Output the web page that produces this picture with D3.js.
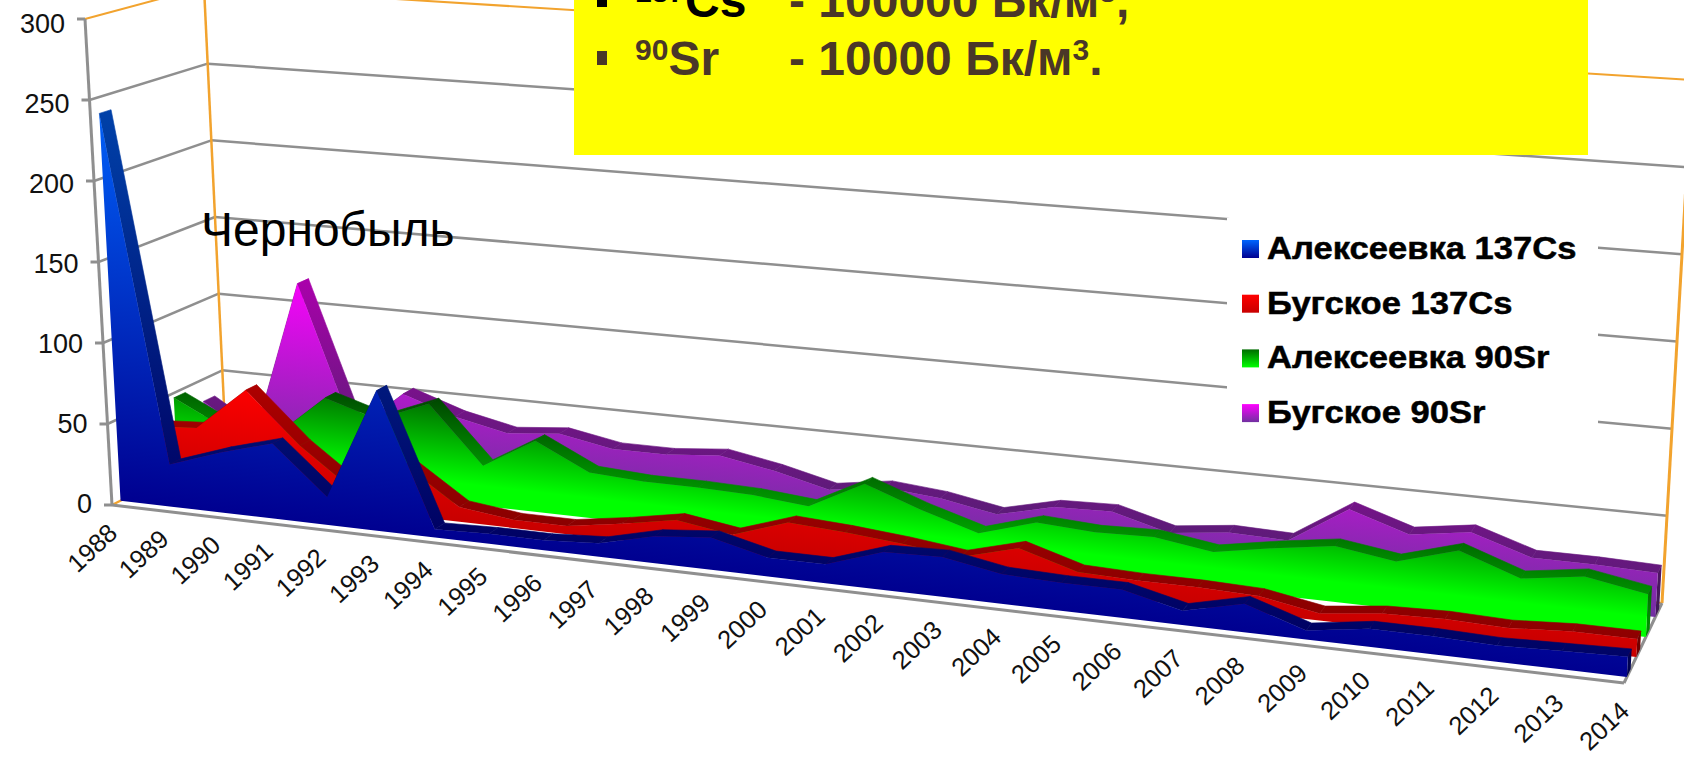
<!DOCTYPE html>
<html lang="ru">
<head>
<meta charset="utf-8">
<title>Алексеевка и Бугское: 137Cs и 90Sr</title>
<script src="https://cdn.jsdelivr.net/npm/d3@7/dist/d3.min.js"></script>
<style>
  html, body { margin: 0; padding: 0; background: #fff; overflow: hidden; }
  svg { display: block; font-family: "Liberation Sans", Arial, sans-serif; }
</style>
</head>
<body>
<svg id="chart" width="1684" height="758"></svg>
<script>
// Annual activity by station and isotope
const years = d3.range(1988, 2015);
const alekseevkaCs = [240,26,37,46,17,85,5,6,6,8,16,19,11,11,22,23,17,16,16,8,16,5,10,10,9,10,11];
const bugskoeCs    = [38,40,67,36,12,31,9,5,5,10,16,11,22,20,17,13,22,12,11,11,10,4,8,9,8,10,10];
const alekseevkaSr = [47,31,30,57,47,60,25,44,28,26,26,25,22,39,27,17,27,25,26,21,27,32,27,37,25,30,24];
const bugskoeSr    = [36,16,118,27,54,43,36,39,33,33,36,30,22,27,24,18,26,27,18,22,21,43,32,37,26,26,25];
const seriesNames  = ["Алексеевка 137Cs", "Бугское 137Cs", "Алексеевка 90Sr", "Бугское 90Sr"];
const seriesValues = [alekseevkaCs, bugskoeCs, alekseevkaSr, bugskoeSr];
const valueTicks   = [0, 50, 100, 150, 200, 250, 300];

// Colours at zero height and at the tallest point of each series
const lowColors  = ["#000090", "#c80000", "#00ff00", "#7030a0"];
const highColors = ["#0066ff", "#ff0000", "#006c00", "#ff00ff"];
const gradientStarts = [0, 0, 0.2, 0];
const SHADE = 0.68;

// Corners of the plot box
const FLB = [112, 505], FLT = [85, 19], FRB = [1624, 683], FRT = [1651, 130];
const BLB = [226, 447], BLT = [204, -13], BRB = [1662, 603], BRT = [1692, 80];
const PERSPECTIVE = 1.137;
const BAND_FRONT = 0.075, BAND_DEPTH = 0.1, SLOT = 0.25;

const xIndex = d3.scaleLinear().domain([0, years.length - 1]).range([0, 1]);
const yValue = d3.scaleLinear().domain([0, 300]).range([0, 1]);
const lerp = (a, b, t) => [a[0] + (b[0] - a[0]) * t, a[1] + (b[1] - a[1]) * t];

function project(i, v, d) {
  const t = xIndex(i);
  const u = t / (t + (1 - t) * PERSPECTIVE);
  const w = yValue(v);
  const front = lerp(lerp(FLB, FRB, u), lerp(FLT, FRT, u), w);
  const back = lerp(lerp(BLB, BRB, u), lerp(BLT, BRT, u), w);
  return lerp(front, back, d);
}

const svg = d3.select("#chart");
const defs = svg.append("defs");
const line = d3.line();
const GRID = "#8f8f8f", EDGE = "#f2a32e";

// Walls: grid lines on the back and the side
const segment = (g, a, b, color, width) => g.append("line")
  .attr("x1", a[0]).attr("y1", a[1]).attr("x2", b[0]).attr("y2", b[1])
  .attr("stroke", color).attr("stroke-width", width);

const walls = svg.append("g");
const last = years.length - 1;
valueTicks.forEach(v => {
  if (v === 0) return;
  const color = v === 300 ? EDGE : GRID;
  const width = v === 300 ? 2 : 2.5;
  segment(walls, project(0, v, 0), project(0, v, 1), color, width);
  segment(walls, project(0, v, 1), project(last, v, 1), color, width);
});
segment(walls, project(0, 0, 1), project(0, 300, 1), EDGE, 2.5);
segment(walls, project(last, 0, 1), project(last, 300, 1), EDGE, 3);
segment(walls, project(0, 0, 0), project(0, 0, 1), EDGE, 2.5);
segment(walls, project(0, 0, 1), project(last, 0, 1), EDGE, 2);
segment(walls, project(last, 0, 0), project(last, 0, 1), GRID, 3);
segment(walls, project(0, 0, 0), project(last, 0, 0), GRID, 3);
segment(walls, project(0, 0, 0), project(0, 300, 0), GRID, 3);

// Value axis ticks and labels
const axisG = svg.append("g");
valueTicks.forEach(v => {
  const p = project(0, v, 0);
  segment(axisG, [p[0] - 8, p[1]], p, GRID, 3);
  axisG.append("text")
    .attr("x", p[0] - 20).attr("y", p[1] + 8 + v / 50)
    .attr("text-anchor", "end")
    .attr("font-size", 27).attr("fill", "#111")
    .text(v);
});

// Year labels along the front edge of the floor
years.forEach((yr, i) => {
  const p = project(i, 0, 0);
  svg.append("text")
    .attr("text-anchor", "end")
    .attr("font-size", 25.5).attr("fill", "#111")
    .attr("transform", `translate(${p[0] + 7},${p[1] + 30}) rotate(-43)`)
    .text(yr);
});

// Gradient whose colour bands run parallel to the base of a series
function addGradient(id, k, d, shade) {
  const vals = seriesValues[k];
  const vmax = d3.max(vals);
  const a = project(13, 0, d), c = project(13, vmax, d), e = project(last, 0, d), s = project(0, 0, d);
  const dir = [e[0] - s[0], e[1] - s[1]];
  const len = Math.hypot(dir[0], dir[1]);
  const n = [dir[1] / len, -dir[0] / len];
  const h = (c[0] - a[0]) * n[0] + (c[1] - a[1]) * n[1];
  const g = defs.append("linearGradient").attr("id", id)
    .attr("gradientUnits", "userSpaceOnUse")
    .attr("x1", a[0]).attr("y1", a[1])
    .attr("x2", a[0] + n[0] * h).attr("y2", a[1] + n[1] * h);
  const tone = col => {
    const rgb = d3.rgb(col);
    return d3.rgb(rgb.r * shade, rgb.g * shade, rgb.b * shade).formatHex();
  };
  g.append("stop").attr("offset", gradientStarts[k]).attr("stop-color", tone(lowColors[k]));
  g.append("stop").attr("offset", 1).attr("stop-color", tone(highColors[k]));
}

// Series, furthest first: top ribbon, end face, then front face
const rows = seriesValues.map((vals, k) => ({ vals, k })).reverse();
const plot = svg.append("g");
rows.forEach(({ vals, k }) => {
  const front = BAND_FRONT + SLOT * k;
  const back = front + BAND_DEPTH;
  addGradient(`face${k}`, k, front, 1);
  addGradient(`rib${k}`, k, front, SHADE);
  addGradient(`end${k}`, k, front, SHADE * 0.8);

  const group = plot.append("g");
  group.selectAll("path.rib").data(d3.pairs(vals.map((v, i) => ({ v, i })))).join("path")
    .attr("class", "rib")
    .attr("fill", `url(#rib${k})`)
    .attr("stroke", `url(#rib${k})`).attr("stroke-width", 0.6)
    .attr("d", ([p, q]) => line([
      project(p.i, p.v, front), project(q.i, q.v, front),
      project(q.i, q.v, back), project(p.i, p.v, back)
    ]) + "Z");

  group.append("path")
    .attr("fill", `url(#end${k})`)
    .attr("d", line([
      project(last, 0, front), project(last, vals[last], front),
      project(last, vals[last], back), project(last, 0, back)
    ]) + "Z");

  const face = d3.area()
    .x0((v, i) => project(i, 0, front)[0]).y0((v, i) => project(i, 0, front)[1])
    .x1((v, i) => project(i, v, front)[0]).y1((v, i) => project(i, v, front)[1]);
  group.append("path").attr("fill", `url(#face${k})`).attr("d", face(vals));
});

// Legend
const legend = svg.append("g");
legend.append("rect").attr("x", 1227).attr("y", 218).attr("width", 371).attr("height", 228).attr("fill", "#fff");
seriesNames.forEach((name, k) => {
  const y = 249 + k * 54.7;
  const gid = `swatch${k}`;
  const g = defs.append("linearGradient").attr("id", gid).attr("x1", 0).attr("y1", 0).attr("x2", 0).attr("y2", 1);
  g.append("stop").attr("offset", 0).attr("stop-color", highColors[k]);
  g.append("stop").attr("offset", 1).attr("stop-color", lowColors[k]);
  legend.append("rect").attr("x", 1242).attr("y", y - 9).attr("width", 17).attr("height", 18).attr("fill", `url(#${gid})`);
  legend.append("text")
    .attr("transform", `translate(1267,${y + 10}) scale(1.115,1)`)
    .attr("font-size", 31).attr("font-weight", 700).attr("fill", "#000")
    .attr("stroke", "#000").attr("stroke-width", 0.5)
    .text(name);
});

// Annotation
svg.append("text").attr("x", 201).attr("y", 246)
  .attr("font-size", 48).attr("fill", "#000").text("Чернобыль");

// Limits panel
const panel = svg.append("g");
panel.append("rect").attr("x", 574).attr("y", -2).attr("width", 1014).attr("height", 157).attr("fill", "#ffff00");
const BROWN = "#4a3728";
const panelRows = [
  { base: 17, bullet: "#000", head: "#000", mass: "137", element: "Cs", limit: "100000 Бк/м", tail: "," },
  { base: 75, bullet: BROWN, head: BROWN, mass: "90", element: "Sr", limit: "10000 Бк/м", tail: "." }
];
panelRows.forEach(r => {
  panel.append("rect").attr("x", 597).attr("y", r.base - 24).attr("width", 10).attr("height", 14).attr("fill", r.bullet);
  const head = panel.append("text").attr("x", 635).attr("y", r.base)
    .attr("font-size", 48).attr("font-weight", 700).attr("fill", r.head);
  head.append("tspan").attr("font-size", 30).attr("dy", -15).text(r.mass);
  head.append("tspan").attr("dy", 15).text(r.element);
  const val = panel.append("text").attr("x", 789).attr("y", r.base)
    .attr("font-size", 48).attr("font-weight", 700).attr("fill", BROWN);
  val.append("tspan").text("- " + r.limit);
  val.append("tspan").attr("font-size", 30).attr("dy", -15).text("3");
  val.append("tspan").attr("dy", 15).text(r.tail);
});
</script>
</body>
</html>
